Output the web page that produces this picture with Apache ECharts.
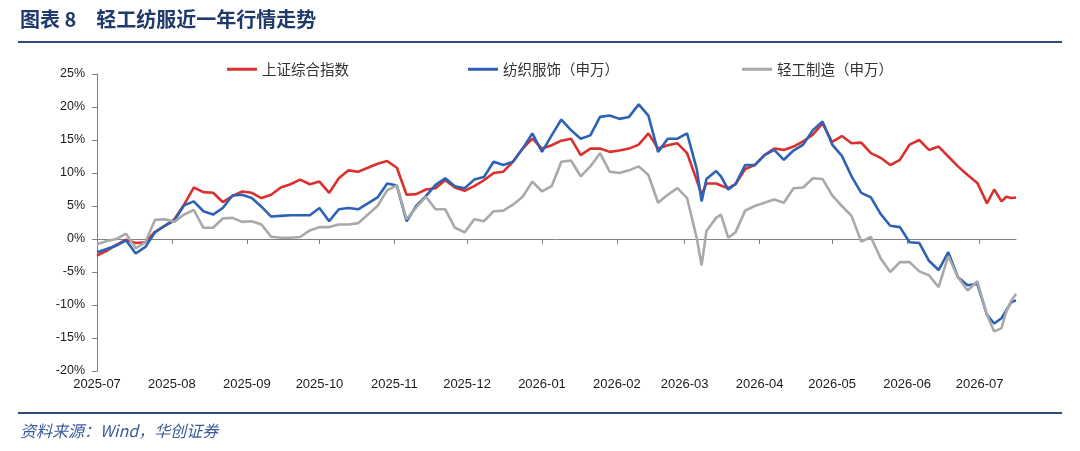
<!DOCTYPE html>
<html lang="zh-CN">
<head>
<meta charset="UTF-8">
<title>轻工纺服近一年行情走势</title>
<script src="https://cdn.jsdelivr.net/npm/echarts@6/dist/echarts.min.js"></script>
<style>
  html, body { margin: 0; padding: 0; background: #fff; }
  #chart { width: 1080px; height: 451px; }
</style>
</head>
<body>
<div id="chart"></div>
<script>
// 月份刻度
var months = ['2025-07', '2025-08', '2025-09', '2025-10', '2025-11', '2025-12',
              '2026-01', '2026-02', '2026-03', '2026-04', '2026-05', '2026-06', '2026-07'];

// 距 2025-07-01 的天数（采样点）
var days = [0, 4, 8, 12, 16, 20, 24, 28, 32, 36, 40, 44, 48, 52, 56, 60, 64, 68, 72, 76,
            80, 84, 88, 92, 96, 100, 104, 108, 112, 116, 120, 124, 128, 132, 136, 140, 144, 148, 152, 156,
            160, 164, 168, 172, 176, 180, 184, 188, 192, 196, 200, 204, 208, 212, 216, 220, 224, 228, 232, 236,
            240, 244, 248, 250, 252, 256, 258, 261, 264, 268, 272, 276, 280, 284, 288, 292, 296, 300, 304, 308,
            312, 316, 320, 324, 328, 332, 336, 340, 344, 348, 352, 356, 360, 364, 368, 371, 374, 376, 378, 380];

// 区间涨跌幅 (%)
var shIndex = [-2.5, -1.8, -0.9, -0.1, -0.6, -0.5, 1.1, 2.0, 3.0, 5.2, 7.8, 7.1, 7.0, 5.6, 6.5, 7.2, 7.0, 6.2, 6.7, 7.8,
               8.3, 9.0, 8.3, 8.7, 7.0, 9.2, 10.4, 10.2, 10.8, 11.4, 11.8, 10.8, 6.7, 6.8, 7.5, 7.7, 8.9, 7.8, 7.3, 8.0,
               8.9, 10.0, 10.2, 11.7, 13.7, 15.2, 13.7, 14.2, 14.9, 15.2, 12.7, 13.7, 13.7, 13.2, 13.4, 13.7, 14.3, 16.0, 13.7, 14.2,
               14.5, 13.0, 8.9, 6.7, 8.4, 8.4, 8.1, 7.7, 8.3, 10.6, 11.2, 12.7, 13.7, 13.5, 14.0, 14.8, 15.8, 17.5, 14.7, 15.6,
               14.5, 14.6, 13.0, 12.3, 11.2, 12.0, 14.3, 15.0, 13.5, 14.0, 12.5, 11.0, 9.7, 8.5, 5.4, 7.5, 5.7, 6.4, 6.2, 6.3];

var textile = [-2.0, -1.5, -1.0, -0.2, -2.2, -1.2, 1.0, 2.0, 2.8, 5.1, 5.7, 4.2, 3.7, 4.7, 6.6, 6.7, 6.2, 4.9, 3.4, 3.5,
               3.6, 3.6, 3.6, 4.7, 2.7, 4.5, 4.7, 4.5, 5.4, 6.3, 8.4, 8.1, 2.7, 5.0, 6.5, 8.2, 9.2, 8.0, 7.7, 9.0,
               9.4, 11.7, 11.2, 11.7, 13.7, 16.0, 13.2, 15.7, 18.1, 16.5, 15.2, 15.7, 18.5, 18.7, 18.2, 18.5, 20.4, 18.7, 13.2, 15.2,
               15.2, 16.0, 10.6, 5.7, 9.1, 10.3, 9.5, 7.5, 8.3, 11.2, 11.2, 12.7, 13.5, 12.0, 13.4, 14.3, 16.5, 17.8, 14.3, 12.6,
               9.5, 7.0, 6.3, 3.8, 2.0, 1.8, -0.5, -0.6, -3.3, -4.7, -2.0, -5.8, -7.0, -6.8, -11.5, -12.8, -12.0, -10.8, -9.6, -9.3];

var lightInd = [-0.8, -0.3, 0.0, 0.8, -1.4, -0.5, 2.9, 3.0, 2.6, 3.7, 4.4, 1.7, 1.7, 3.1, 3.2, 2.6, 2.7, 2.2, 0.35, 0.2,
                0.2, 0.3, 1.3, 1.8, 1.8, 2.2, 2.2, 2.4, 3.7, 5.0, 7.4, 8.1, 3.0, 4.8, 6.4, 4.5, 4.5, 1.7, 1.0, 3.0,
                2.7, 4.2, 4.3, 5.2, 6.4, 8.7, 7.2, 8.0, 11.7, 11.9, 9.5, 11.0, 13.0, 10.2, 10.0, 10.4, 11.0, 9.7, 5.5, 6.7,
                7.7, 6.2, 0.1, -4.0, 1.2, 3.2, 3.7, 0.2, 1.0, 4.3, 5.0, 5.5, 6.0, 5.5, 7.7, 7.8, 9.2, 9.1, 6.6, 5.0,
                3.5, -0.4, 0.3, -2.9, -5.0, -3.5, -3.5, -4.9, -5.5, -7.3, -2.6, -5.8, -7.8, -6.4, -11.5, -14.0, -13.5, -11.0, -9.4, -8.3];

var seriesNames = ['上证综合指数', '纺织服饰（申万）', '轻工制造（申万）'];
var seriesColors = ['#D8312E', '#2D62B5', '#A9A9A9'];

var DAY = 86400000;
var start = Date.UTC(2025, 6, 1);

// 每个月首日距起点的天数 -> 刻度位置
var monthDays = months.map(function (m) {
    var p = m.split('-');
    return Math.round((Date.UTC(+p[0], +p[1] - 1, 1) - start) / DAY);
});
var monthLabel = {};
monthDays.forEach(function (d, i) { monthLabel[d] = months[i]; });

function pairUp(values) {
    return values.map(function (v, i) { return [days[i], v]; });
}

var chart = echarts.init(document.getElementById('chart'));

var series = [shIndex, textile, lightInd].map(function (vals, i) {
    return {
        name: seriesNames[i],
        type: 'line',
        data: pairUp(vals),
        showSymbol: false,
        symbol: 'none',
        animation: false,
        lineStyle: { width: 2.6, color: seriesColors[i] },
        itemStyle: { color: seriesColors[i] }
    };
});

var legendLeft = [227, 468, 742];
var legends = seriesNames.map(function (n, i) {
    return {
        data: [n],
        left: legendLeft[i],
        top: 62,
        icon: 'rect',
        itemWidth: 30,
        itemHeight: 3,
        itemGap: 0,
        padding: 0,
        selectedMode: false,
        textStyle: {
            fontFamily: 'Noto Sans CJK SC',
            fontSize: 14.5,
            color: '#333'
        }
    };
});

var option = {
    backgroundColor: '#fff',
    animation: false,
    title: {
        text: '图表 8　轻工纺服近一年行情走势',
        left: 20,
        top: 9,
        padding: 0,
        textStyle: {
            fontFamily: 'Noto Sans CJK SC',
            fontSize: 20,
            fontWeight: 'bold',
            color: '#1F3A6B'
        }
    },
    legend: legends,
    grid: { left: 97, right: 64, top: 74, bottom: 80, containLabel: false },
    xAxis: [{
        type: 'value',
        min: 0,
        max: 380,
        axisLine: { onZero: true, lineStyle: { color: '#808080', width: 1 } },
        axisTick: { show: true, length: 5, customValues: monthDays, lineStyle: { color: '#808080' } },
        axisLabel: { show: false },
        splitLine: { show: false }
    }, {
        type: 'value',
        min: 0,
        max: 380,
        position: 'bottom',
        axisLine: { show: false, onZero: false },
        axisTick: { show: false },
        splitLine: { show: false },
        axisLabel: {
            customValues: monthDays,
            margin: 7,
            fontFamily: 'Liberation Sans',
            fontSize: 13,
            color: '#1a1a1a',
            formatter: function (val) { return monthLabel[val] || ''; }
        }
    }],
    yAxis: {
        type: 'value',
        min: -20,
        max: 25,
        interval: 5,
        axisLine: { show: true, lineStyle: { color: '#808080', width: 1 } },
        axisTick: { show: true, length: 5, lineStyle: { color: '#808080' } },
        splitLine: { show: false },
        axisLabel: {
            formatter: '{value}%',
            margin: 12,
            fontFamily: 'Liberation Sans',
            fontSize: 12.5,
            color: '#1a1a1a'
        }
    },
    graphic: [{
        type: 'line',
        shape: { x1: 18, y1: 42, x2: 1062, y2: 42 },
        style: { stroke: '#2B4A80', lineWidth: 2 }
    }, {
        type: 'line',
        shape: { x1: 18, y1: 413, x2: 1062, y2: 413 },
        style: { stroke: '#2B4A80', lineWidth: 2 }
    }, {
        type: 'text',
        left: 20,
        top: 423,
        style: {
            text: '资料来源：Wind，华创证券',
            fontFamily: 'Noto Sans CJK SC',
            fontSize: 16,
            fontStyle: 'italic',
            fill: '#3A5A98'
        }
    }],
    series: series
};

chart.setOption(option);
</script>
</body>
</html>
